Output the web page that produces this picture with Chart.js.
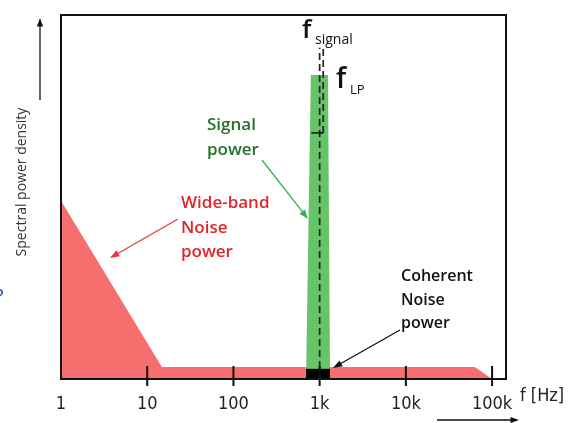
<!DOCTYPE html>
<html>
<head>
<meta charset="utf-8">
<script src="https://cdn.jsdelivr.net/npm/chart.js@4"></script>
<style>
  html, body { margin: 0; padding: 0; background: #fff; }
  #wrap { width: 577px; height: 423px; }
</style>
</head>
<body>
<div id="wrap"><canvas id="myChart" width="577" height="423"></canvas></div>
<script>
// decade ticks on the frequency axis
const tickValues = [1, 10, 100, 1000, 10000, 100000];
const tickLabels = ["1", "10", "100", "1k", "10k", "100k"];

// wide-band noise: falling 1/f part, then flat floor, roll-off near 100k
const noiseFreq = [1, 14.8, 63000, 100000];
const noisePower = [49, 3.3, 3.3, 0];

// signal peak around 1 kHz
const signalFreq = [695, 790, 1250, 1320];
const signalPower = [0, 83.5, 83.5, 0];

// coherent noise block under the signal
const coherentFreq = [695, 695, 1320, 1320];
const coherentPower = [0, 2.8, 2.8, 0];

// marker lines
const fSignal = 1000;
const fLP = 1100;
const markerTop = 91;
const lpLevel = 67.6;
const lpStart = 800;

const pts = (xs, ys) => xs.map((x, i) => ({ x: x, y: ys[i] }));

const chart = document.getElementById("myChart");
const labelFont = "'Liberation Sans Narrow', 'DejaVu Sans Condensed', sans-serif";
const textFont = "'Open Sans', 'Noto Sans', sans-serif";

function arrow(ctx, x1, y1, x2, y2, color, head) {
  const a = Math.atan2(y2 - y1, x2 - x1);
  ctx.save();
  ctx.strokeStyle = color;
  ctx.fillStyle = color;
  ctx.lineWidth = 1.3;
  ctx.beginPath();
  ctx.moveTo(x1, y1);
  ctx.lineTo(x2 - Math.cos(a) * head * 0.8, y2 - Math.sin(a) * head * 0.8);
  ctx.stroke();
  ctx.beginPath();
  ctx.moveTo(x2, y2);
  ctx.lineTo(x2 - head * Math.cos(a - 0.35), y2 - head * Math.sin(a - 0.35));
  ctx.lineTo(x2 - head * Math.cos(a + 0.35), y2 - head * Math.sin(a + 0.35));
  ctx.closePath();
  ctx.fill();
  ctx.restore();
}

const decorations = {
  id: "decorations",
  afterDraw(c) {
    const ctx = c.ctx;
    const area = c.chartArea;
    const xs = c.scales.x;
    ctx.save();

    // frame
    ctx.strokeStyle = "#111";
    ctx.lineWidth = 2;
    ctx.strokeRect(area.left, area.top, area.right - area.left, area.bottom - area.top);

    // decade tick marks crossing the bottom line
    tickValues.slice(1).forEach(v => {
      const x = xs.getPixelForValue(v);
      ctx.beginPath();
      ctx.moveTo(x, area.bottom - 13);
      ctx.lineTo(x, area.bottom + 7);
      ctx.stroke();
    });

    // axis titles
    ctx.fillStyle = "#222";
    ctx.font = "18px " + labelFont;
    ctx.textAlign = "left";
    ctx.textBaseline = "middle";
    ctx.fillText("f [Hz]", 520, 396);
    arrow(ctx, 437, 420, 519, 420, "#111", 9);

    ctx.save();
    ctx.translate(22, 182);
    ctx.rotate(-Math.PI / 2);
    ctx.textAlign = "center";
    ctx.font = "14px " + textFont;
    ctx.fillStyle = "#333";
    ctx.fillText("Spectral power density", 0, 0);
    ctx.restore();
    arrow(ctx, 40, 100, 40, 18, "#111", 9);

    // stray blue glyph at the left edge
    ctx.fillStyle = "#1f4f9e";
    ctx.font = "20px " + textFont;
    ctx.textAlign = "left";
    ctx.fillText("?", -5, 297);

    // f_signal and f_LP labels
    ctx.fillStyle = "#111";
    ctx.textBaseline = "alphabetic";
    ctx.font = "600 26px " + textFont;
    ctx.fillText("f", 302, 38);
    ctx.font = "500 14px " + textFont;
    ctx.fillText("signal", 315, 44);
    ctx.font = "600 28px " + textFont;
    ctx.fillText("f", 336, 88);
    ctx.font = "500 13px " + textFont;
    ctx.fillText("LP", 350, 94);

    // annotations
    ctx.textBaseline = "middle";
    ctx.font = "600 17px " + textFont;
    ctx.fillStyle = "#26702b";
    ctx.fillText("Signal", 207, 125);
    ctx.fillText("power", 207, 150);
    arrow(ctx, 262, 160, 308, 219, "#2fb34a", 10);

    ctx.fillStyle = "#e0252b";
    ctx.fillText("Wide-band", 181, 203);
    ctx.fillText("Noise", 181, 228);
    ctx.fillText("power", 181, 252);
    arrow(ctx, 178, 219, 110, 258, "#e5393d", 10);

    ctx.fillStyle = "#111";
    ctx.font = "600 16px " + textFont;
    ctx.fillText("Coherent", 401, 276);
    ctx.fillText("Noise", 401, 300);
    ctx.fillText("power", 401, 323);
    arrow(ctx, 400, 330, 333, 368, "#111", 10);

    ctx.restore();
  }
};

const data01 = {
  datasets: [
    {
      label: "Wide-band noise",
      data: pts(noiseFreq, noisePower),
      backgroundColor: "#f76e6e",
      borderWidth: 0,
      fill: "origin",
      order: 5,
    },
    {
      label: "Signal",
      data: pts(signalFreq, signalPower),
      backgroundColor: "#68c468",
      borderWidth: 0,
      fill: "origin",
      order: 4,
    },
    {
      label: "Coherent noise",
      data: pts(coherentFreq, coherentPower),
      backgroundColor: "#000",
      borderWidth: 0,
      fill: "origin",
      order: 3,
    },
    {
      label: "f signal",
      data: [{ x: fSignal, y: 0 }, { x: fSignal, y: markerTop }],
      borderColor: "#222",
      borderWidth: 1.7,
      borderDash: [7, 4],
      fill: false,
      order: 2,
    },
    {
      label: "f LP",
      data: [{ x: fLP, y: lpLevel }, { x: fLP, y: markerTop }],
      borderColor: "#222",
      borderWidth: 1.7,
      borderDash: [7, 4],
      fill: false,
      order: 1,
    },
    {
      label: "LP level",
      data: [{ x: lpStart, y: lpLevel }, { x: fLP, y: lpLevel }],
      borderColor: "#111",
      borderWidth: 1.5,
      fill: false,
      order: 0,
    },
  ],
};

const config01 = {
  type: "line",
  data: data01,
  options: {
    responsive: false,
    animation: false,
    elements: { point: { radius: 0 }, line: { tension: 0 } },
    layout: { padding: { left: 61, right: 71, top: 15, bottom: 0 } },
    plugins: {
      legend: { display: false },
      tooltip: { enabled: false },
      title: { display: false },
    },
    scales: {
      x: {
        type: "logarithmic",
        min: 1,
        max: 145000,
        afterBuildTicks: (s) => { s.ticks = tickValues.map(v => ({ value: v })); },
        afterFit: (s) => { s.height = 44; },
        grid: { display: false },
        border: { display: false },
        ticks: {
          autoSkip: false,
          maxRotation: 0,
          padding: 7,
          color: "#222",
          font: { family: labelFont, size: 18 },
          callback: (v, i) => tickLabels[i],
        },
      },
      y: {
        display: false,
        min: 0,
        max: 100,
      },
    },
  },
  plugins: [decorations],
};

const chart01 = new Chart(chart, config01);
</script>
</body>
</html>
